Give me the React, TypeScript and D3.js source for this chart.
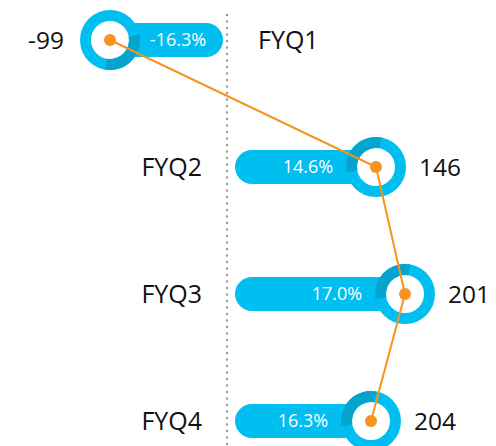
import React, { useEffect, useRef } from 'react';
import * as d3 from 'd3';

const categories = ['FYQ1', 'FYQ2', 'FYQ3', 'FYQ4'];
const values = [-99, 146, 201, 204];
const growth = [-16.3, 14.6, 17.0, 16.3];
// bar reach as drawn (not proportional to the labels in the source)
const barReach = [-117, 149, 178, 144];

const W = 496;
const H = 446;

const App = () => {
    const svgRef = useRef<SVGSVGElement>(null);

    useEffect(() => {
        const svg = d3.select(svgRef.current);
        svg.selectAll('*').remove();

        const cyan = '#00bef0';
        const cyanDark = '#04a4cf';
        const orange = '#f7931e';
        const font = '"Open Sans", sans-serif';

        const rows = categories.map((c, i) => ({
            cat: c,
            value: values[i],
            growth: growth[i],
            reach: barReach[i],
        }));

        const x = d3.scaleLinear().domain([-120, 180]).range([107, 407]);
        const y = d3.scalePoint().domain(categories).range([40, 421]);
        const x0 = x(0);
        const barH = 34;
        const rOuter = 30;
        const rInner = 19;

        // zero line
        svg.append('line')
            .attr('x1', x0).attr('x2', x0)
            .attr('y1', 15).attr('y2', H)
            .attr('stroke', '#9c9c9c')
            .attr('stroke-width', 2.5)
            .attr('stroke-linecap', 'round')
            .attr('stroke-dasharray', '0 6.5');

        const g = svg.selectAll('g.row')
            .data(rows)
            .enter()
            .append('g')
            .attr('class', 'row');

        // bars
        g.append('rect')
            .attr('x', (d) => (d.reach < 0 ? x(d.reach) : x0 + 8))
            .attr('y', (d) => y(d.cat)! - barH / 2)
            .attr('width', (d) => (d.reach < 0 ? x0 - 4 - x(d.reach) : x(d.reach) - x0 - 8))
            .attr('height', barH)
            .attr('rx', barH / 2)
            .attr('fill', cyan);

        // ring
        g.append('circle')
            .attr('cx', (d) => x(d.reach))
            .attr('cy', (d) => y(d.cat)!)
            .attr('r', (rOuter + rInner) / 2)
            .attr('fill', 'white')
            .attr('stroke', cyan)
            .attr('stroke-width', rOuter - rInner);

        // shadow part of the ring
        const arc = d3.arc<any>().innerRadius(rInner).outerRadius(rOuter);
        const deg = Math.PI / 180;
        g.append('path')
            .attr('transform', (d) => `translate(${x(d.reach)},${y(d.cat)})`)
            .attr('d', (d) => {
                const off = d.reach < 0 ? 180 : 0;
                return arc({ startAngle: (-100 + off) * deg, endAngle: (10 + off) * deg });
            })
            .attr('fill', cyanDark);

        // percent labels inside bars
        g.append('text')
            .attr('x', (d) => x(d.reach) + (d.reach < 0 ? 68 : -68))
            .attr('y', (d) => y(d.cat)!)
            .attr('dy', '0.36em')
            .attr('text-anchor', 'middle')
            .style('font-family', font)
            .style('font-size', '18px')
            .style('fill', 'white')
            .text((d) => `${d.growth.toFixed(1)}%`);

        // value labels
        g.append('text')
            .attr('x', (d) => x(d.reach) + (d.reach < 0 ? -rOuter - 16 : rOuter + 13))
            .attr('y', (d) => y(d.cat)!)
            .attr('dy', '0.36em')
            .attr('text-anchor', (d) => (d.reach < 0 ? 'end' : 'start'))
            .style('font-family', font)
            .style('font-size', '24.5px')
            .style('fill', '#111')
            .text((d) => d.value);

        // category labels
        g.append('text')
            .attr('x', (d) => (d.reach < 0 ? x0 + 31 : x0 - 25))
            .attr('y', (d) => y(d.cat)!)
            .attr('dy', '0.36em')
            .attr('text-anchor', (d) => (d.reach < 0 ? 'start' : 'end'))
            .style('font-family', font)
            .style('font-size', '25px')
            .style('fill', '#111')
            .text((d) => d.cat);

        // orange line through the ring centres
        const line = d3.line<any>()
            .x((d) => x(d.reach))
            .y((d) => y(d.cat)!);

        svg.append('path')
            .datum(rows)
            .attr('fill', 'none')
            .attr('stroke', orange)
            .attr('stroke-width', 2)
            .attr('d', line);

        svg.selectAll('circle.dot')
            .data(rows)
            .enter()
            .append('circle')
            .attr('class', 'dot')
            .attr('cx', (d) => x(d.reach))
            .attr('cy', (d) => y(d.cat)!)
            .attr('r', 6)
            .attr('fill', orange);
    }, []);

    return (
        <svg
            ref={svgRef}
            width={W}
            height={H}
            style={{ position: 'absolute', left: 0, top: 0, background: 'white' }}
        />
    );
};

export default App;
